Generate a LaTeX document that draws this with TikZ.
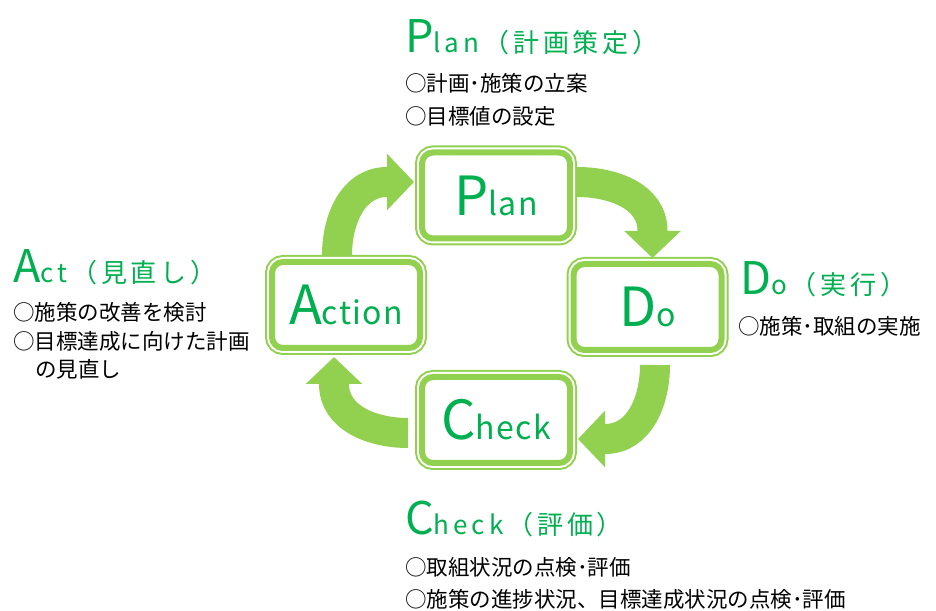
\documentclass[tikz,border=0pt]{standalone}
\usepackage{fontspec}
\setmainfont{Noto Sans CJK JP}
\usetikzlibrary{arrows.meta}
\definecolor{boxgreen}{HTML}{92D050}
\definecolor{textgreen}{HTML}{00B050}
% Big first letter, then the rest of the word
\newcommand{\boxlabel}[2]{{\fontsize{54}{54}\selectfont #1}{\fontsize{32}{32}\selectfont\addfontfeatures{LetterSpace=4}#2}}
\newcommand{\headlabel}[2]{{\fontsize{45}{45}\selectfont #1}{\fontsize{26}{26}\selectfont\addfontfeatures{LetterSpace=15}#2}}

\begin{document}
\begin{tikzpicture}[x=1pt,y=1pt,
  cyclebox/.style={draw=boxgreen,line width=6pt,fill=white,rounded corners=11pt,
    minimum width=148pt,minimum height=86pt,inner sep=0pt,text=textgreen,
    preaction={draw=boxgreen,line width=14pt},
    preaction={draw=white,line width=10pt}},
  cyclearrow/.style={draw=boxgreen,line width=30pt,-{Triangle[width=55pt,length=27pt]}},
  heading/.style={anchor=base west,inner sep=0pt,text=textgreen},
  item/.style={anchor=base west,inner sep=0pt,font=\fontsize{21.5}{21.5}\selectfont}]
\useasboundingbox (0,0) rectangle (936,610);
% The four stages
\node[cyclebox] (plan) at (496,414.5) {\boxlabel{P}{lan}};
\node[cyclebox] (do) at (647.5,303) {\boxlabel{D}{o}};
\node[cyclebox] (check) at (496,190) {\boxlabel{C}{heck}};
\node[cyclebox] (action) at (346,305) {\boxlabel{A}{ction}};
% Arrows round the cycle
\draw[cyclearrow] ([shift={(4pt,13.5pt)}]plan.east) to[out=0,in=90]
  ([shift={(5pt,30pt)}]do.north) -- ([shift={(5pt,3pt)}]do.north);
\draw[cyclearrow] ([shift={(7.5pt,-12pt)}]do.south) to[out=-90,in=0]
  ([shift={(32pt,-19pt)}]check.east) -- ([shift={(5pt,-19pt)}]check.east);
\draw[cyclearrow] ([shift={(-11pt,-13pt)}]check.west) to[out=180,in=-90]
  ([shift={(-12pt,-33pt)}]action.south) -- ([shift={(-12pt,-6pt)}]action.south);
\draw[cyclearrow] ([shift={(-9pt,4pt)}]action.north) to[out=90,in=180]
  ([shift={(-32pt,13.5pt)}]plan.west) -- ([shift={(-5pt,13.5pt)}]plan.west);
% Plan
\node[heading] (planhead) at (405,557) {\headlabel{P}{lan（計画策定）}};
\node[item] (planitema) at (405,518) {○計画･施策の立案};
\node[item] (planitemb) at (405,485) {○目標値の設定};
% Do
\node[heading] (dohead) at (740,315) {\headlabel{D}{o（実行）}};
\node[item] (doitema) at (738,275) {○施策･取組の実施};
% Check
\node[heading] (checkhead) at (405,75) {\headlabel{C}{heck（評価）}};
\node[item] (checkitema) at (405,35) {○取組状況の点検･評価};
\node[item] (checkitemb) at (405,3) {○施策の進捗状況、目標達成状況の点検･評価};
% Act
\node[heading] (acthead) at (13,327) {\headlabel{A}{ct（見直し）}};
\node[item] (actitema) at (13,289) {○施策の改善を検討};
\node[item] (actitemb) at (13,260) {○目標達成に向けた計画};
\node[item] (actitemc) at (35,232) {の見直し};
\end{tikzpicture}
\end{document}
